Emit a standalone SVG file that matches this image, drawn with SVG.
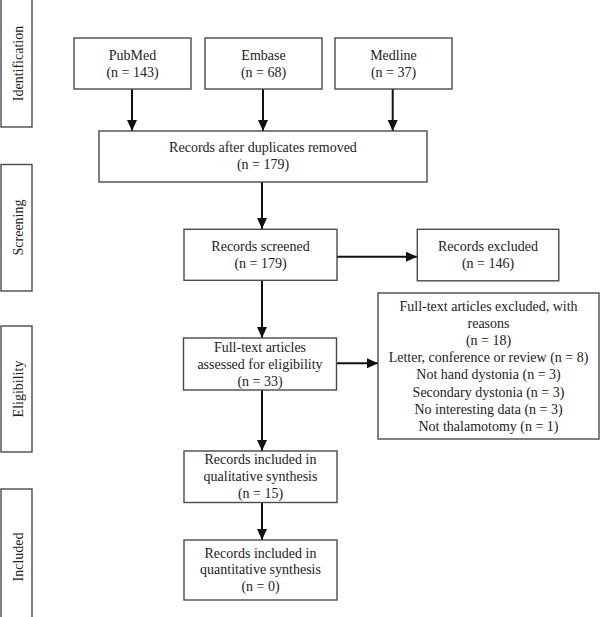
<svg xmlns="http://www.w3.org/2000/svg" width="600" height="617" viewBox="0 0 600 617">
<defs>
<marker id="ah" markerUnits="userSpaceOnUse" markerWidth="12" markerHeight="10" refX="11" refY="5" orient="auto">
<path d="M0,0 L11,5 L0,10 Z" fill="#111"/>
</marker>
<style>
.box{fill:#fff;stroke:#4a4a4a;stroke-width:1.4}
.t{font-family:"Liberation Serif","Times New Roman",serif;font-size:14px;fill:#222;text-anchor:middle}
.c{stroke:#111;stroke-width:2;fill:none;marker-end:url(#ah)}
</style>
</defs>
<rect width="600" height="617" fill="#fff"/>
<g id="stage-identification">
<rect class="box" x="1" y="-2" width="31" height="129"/>
<text class="t" transform="translate(22.5,63.5) rotate(-90)">Identification</text>
</g>
<g id="stage-screening">
<rect class="box" x="1" y="164.5" width="31" height="126.5"/>
<text class="t" transform="translate(22.5,227.5) rotate(-90)">Screening</text>
</g>
<g id="stage-eligibility">
<rect class="box" x="1" y="326" width="31" height="126"/>
<text class="t" transform="translate(22.5,389) rotate(-90)">Eligibility</text>
</g>
<g id="stage-included">
<rect class="box" x="1" y="489" width="31" height="136"/>
<text class="t" transform="translate(22.5,557) rotate(-90)">Included</text>
</g>
<g id="connectors">
<line class="c" x1="132" y1="89" x2="132" y2="131"/>
<line class="c" x1="263" y1="89" x2="263" y2="131"/>
<line class="c" x1="392.7" y1="89" x2="392.7" y2="131"/>
<line class="c" x1="262" y1="182" x2="262" y2="229"/>
<line class="c" x1="337" y1="256.7" x2="417" y2="256.7"/>
<line class="c" x1="262" y1="280" x2="262" y2="338"/>
<line class="c" x1="336.5" y1="363.3" x2="378" y2="363.3"/>
<line class="c" x1="262" y1="390" x2="262" y2="451"/>
<line class="c" x1="262" y1="502.5" x2="262" y2="540"/>
</g>
<g id="pubmed">
<rect class="box" x="74" y="38" width="117" height="51"/>
<text class="t" x="132.5" y="59.5">PubMed</text>
<text class="t" x="132.5" y="77">(n = 143)</text>
</g>
<g id="embase">
<rect class="box" x="205" y="38" width="117" height="51"/>
<text class="t" x="263.5" y="59.5">Embase</text>
<text class="t" x="263.5" y="77">(n = 68)</text>
</g>
<g id="medline">
<rect class="box" x="335" y="38" width="117" height="51"/>
<text class="t" x="393.5" y="59.5">Medline</text>
<text class="t" x="393.5" y="77">(n = 37)</text>
</g>
<g id="duplicates">
<rect class="box" x="99" y="131" width="328" height="51"/>
<text class="t" x="263" y="151.5">Records after duplicates removed</text>
<text class="t" x="263" y="169">(n = 179)</text>
</g>
<g id="screened">
<rect class="box" x="184" y="229.3" width="153" height="51"/>
<text class="t" x="260.5" y="250.5">Records screened</text>
<text class="t" x="260.5" y="268">(n = 179)</text>
</g>
<g id="excluded">
<rect class="box" x="417.3" y="229.3" width="141.5" height="51.5"/>
<text class="t" x="488" y="250.5">Records excluded</text>
<text class="t" x="488" y="268">(n = 146)</text>
</g>
<g id="assessed">
<rect class="box" x="183.5" y="338" width="153" height="52"/>
<text class="t" x="260" y="351.5">Full-text articles</text>
<text class="t" x="260" y="368.5">assessed for eligibility</text>
<text class="t" x="260" y="385.5">(n = 33)</text>
</g>
<g id="reasons">
<rect class="box" x="378" y="293" width="221" height="146"/>
<text class="t" x="488.5" y="310.5">Full-text articles excluded, with</text>
<text class="t" x="488.5" y="327.7">reasons</text>
<text class="t" x="488.5" y="344.9">(n = 18)</text>
<text class="t" x="488.5" y="362.1">Letter, conference or review (n = 8)</text>
<text class="t" x="488.5" y="379.3">Not hand dystonia (n = 3)</text>
<text class="t" x="488.5" y="396.5">Secondary dystonia (n = 3)</text>
<text class="t" x="488.5" y="413.7">No interesting data (n = 3)</text>
<text class="t" x="488.5" y="430.9">Not thalamotomy (n = 1)</text>
</g>
<g id="qualitative">
<rect class="box" x="184" y="451" width="153" height="51.5"/>
<text class="t" x="260.5" y="464">Records included in</text>
<text class="t" x="260.5" y="481">qualitative synthesis</text>
<text class="t" x="260.5" y="498">(n = 15)</text>
</g>
<g id="quantitative">
<rect class="box" x="184" y="540" width="153" height="60"/>
<text class="t" x="260.5" y="557.5">Records included in</text>
<text class="t" x="260.5" y="574">quantitative synthesis</text>
<text class="t" x="260.5" y="591">(n = 0)</text>
</g>
</svg>
